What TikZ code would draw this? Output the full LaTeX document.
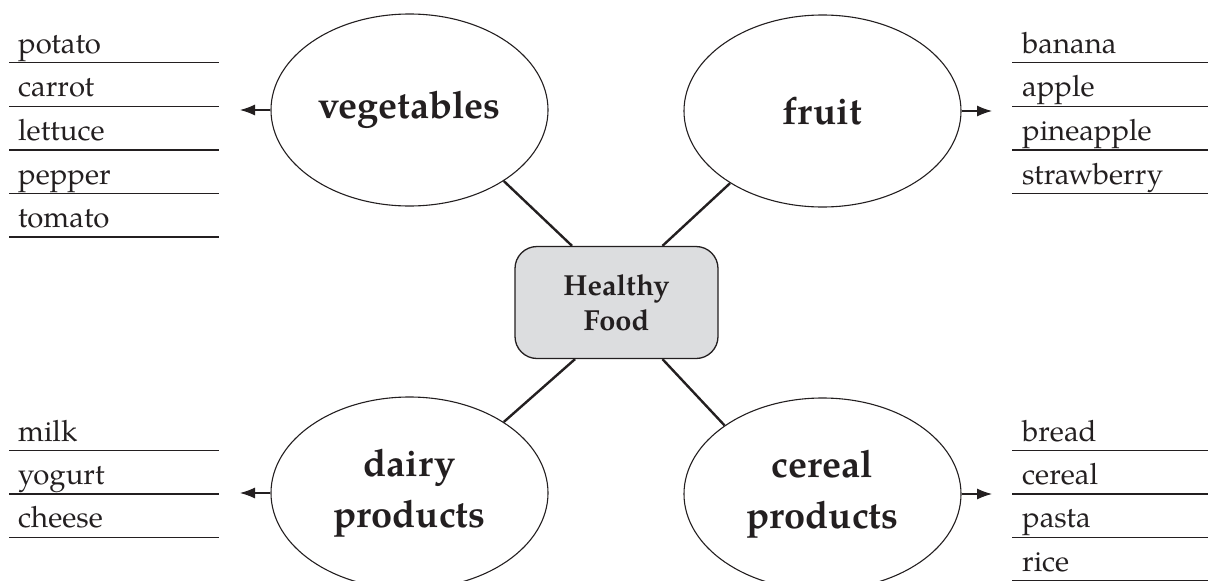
\documentclass[tikz,border=0pt]{standalone}
\usepackage{fontspec}
\setmainfont{TeX Gyre Pagella}
\usetikzlibrary{shapes.geometric,arrows.meta,calc}
\definecolor{ink}{HTML}{231F20}
\definecolor{boxgray}{HTML}{DCDDDF}
\tikzset{
  bub/.style={ellipse, draw=ink, line width=1.1pt, minimum width=277pt, minimum height=192pt,
    inner sep=0pt, align=center, text=ink, font=\fontsize{38}{51}\selectfont\bfseries},
  hub/.style={rectangle, rounded corners=22pt, draw=ink, line width=1.3pt, fill=boxgray,
    minimum width=203pt, minimum height=112pt, inner sep=0pt, align=center, text=ink,
    font=\fontsize{29}{35}\selectfont\bfseries},
  conn/.style={draw=ink, line width=2.4pt},
  arr/.style={draw=ink, line width=1.1pt, -{Latex[length=15pt,width=11pt]}},
  item/.style={anchor=base west, inner sep=0pt, text=ink, font=\fontsize{29.3}{30}\selectfont},
  rule/.style={draw=ink, line width=1.4pt},
}
\begin{document}
\begin{tikzpicture}[x=1pt,y=-1pt]
\useasboundingbox (0,0) rectangle (1208,581);
% central node and bubbles
\node[hub] (hf) at (616.5,302.5) {Healthy\\Food};
\node[bub] (veg) at (409.5,110) {vegetables};
\node[bub] (fru) at (822.5,111) {fruit};
\node[bub] (dai) at (409.5,493) {dairy\\products};
\node[bub] (cer) at (822.5,494) {cereal\\products};
% connectors
\draw[conn] (veg.-37.6) -- ($(hf.north)+(-44.5,0)$);
\draw[conn] (fru.-142.4) -- ($(hf.north)+(46,0)$);
\draw[conn] (dai.37.8) -- ($(hf.south)+(-41.5,0)$);
\draw[conn] (cer.145) -- ($(hf.south)+(46,0)$);
% arrow tips
\coordinate (vegtip) at (240,110);
\coordinate (frutip) at (992,111);
\coordinate (daitip) at (240,493);
\coordinate (certip) at (992,494);
\draw[arr] (veg) -- (vegtip);
\draw[arr] (fru) -- (frutip);
\draw[arr] (dai) -- (daitip);
\draw[arr] (cer) -- (certip);
% lists
\foreach \t [count=\i] in {potato,carrot,lettuce,pepper,tomato} {
  \node[item] (v\i) at (18,{53.2+43.6*(\i-1)}) {\t};
  \draw[rule] (9,{62.7+43.6*(\i-1)}) -- (219,{62.7+43.6*(\i-1)});
}
\foreach \t [count=\i] in {banana,apple,pineapple,strawberry} {
  \node[item] (f\i) at (1022,{53.2+43.6*(\i-1)}) {\t};
  \draw[rule] (1012,{62.7+43.6*(\i-1)}) -- (1208,{62.7+43.6*(\i-1)});
}
\foreach \t [count=\i] in {milk,yogurt,cheese} {
  \node[item] (d\i) at (18,{441.2+43.3*(\i-1)}) {\t};
  \draw[rule] (9,{450.7+43.3*(\i-1)}) -- (219,{450.7+43.3*(\i-1)});
}
\foreach \t [count=\i] in {bread,cereal,pasta,rice} {
  \node[item] (c\i) at (1022,{441.2+43.3*(\i-1)}) {\t};
  \draw[rule] (1012,{450.7+43.3*(\i-1)}) -- (1208,{450.7+43.3*(\i-1)});
}
\end{tikzpicture}
\end{document}
